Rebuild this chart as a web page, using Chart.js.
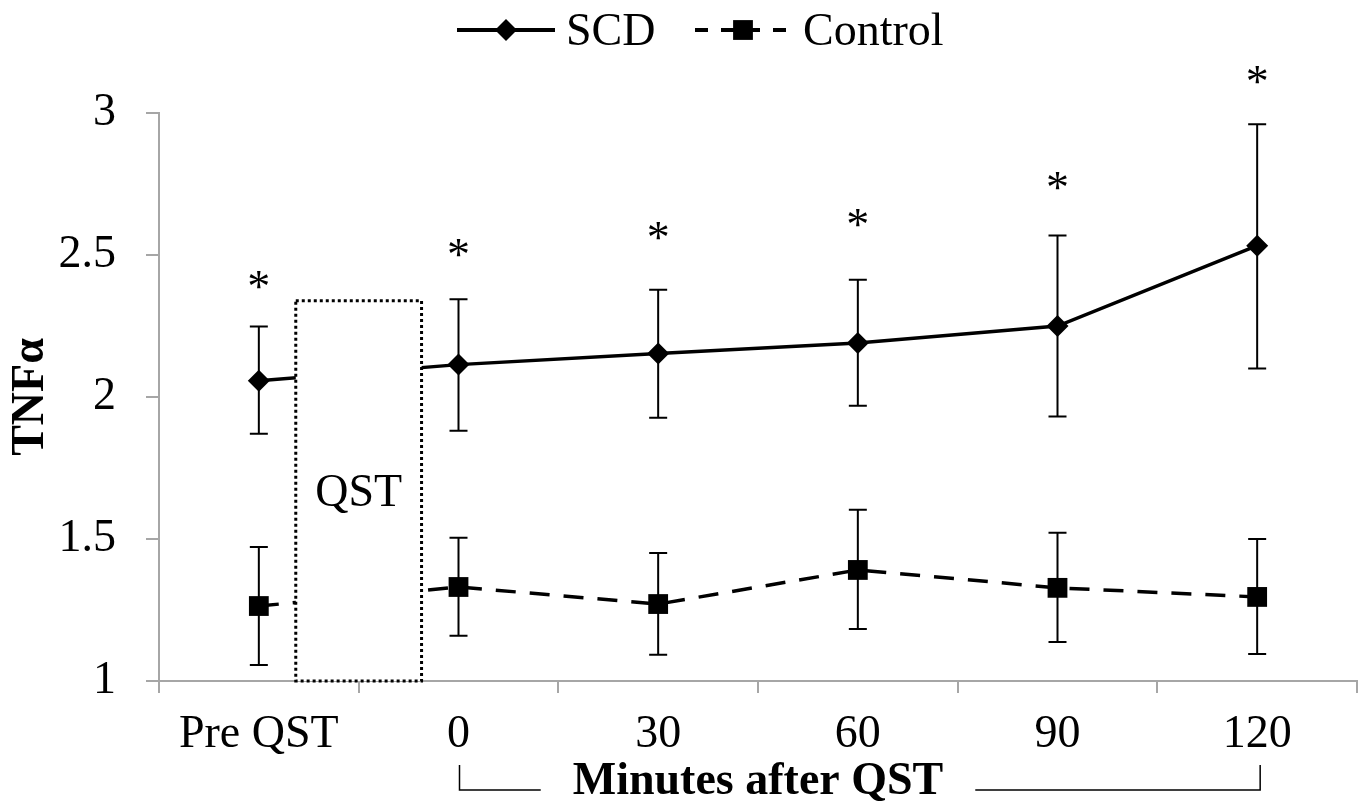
<!DOCTYPE html>
<html>
<head>
<meta charset="utf-8">
<script src="https://cdn.jsdelivr.net/npm/chart.js@4.4.0/dist/chart.umd.min.js"></script>
<style>
  html, body { margin: 0; padding: 0; background: #fff; overflow: hidden; }
  #wrap { width: 1365px; height: 806px; position: relative; overflow: hidden; }
  #tnfChart { display: block; }
</style>
</head>
<body>
<!-- canvas is 6px wider than the window: Chart.js keeps ~14px for the markers on the right -->
<div id="wrap"><canvas id="tnfChart" width="1371" height="806"></canvas></div>
<script>
const timepoints = ['Pre QST', '0', '30', '60', '90', '120'];

// SCD group: mean and error bar ends
const scdMean = [2.057, 2.114, 2.153, 2.19, 2.25, 2.533];
const scdHigh = [2.248, 2.344, 2.378, 2.413, 2.569, 2.96];
const scdLow  = [1.871, 1.881, 1.927, 1.969, 1.931, 2.10];

// Control group
const ctlMean = [1.264, 1.331, 1.271, 1.391, 1.328, 1.296];
const ctlHigh = [1.472, 1.504, 1.451, 1.603, 1.522, 1.50];
const ctlLow  = [1.056, 1.159, 1.092, 1.183, 1.137, 1.095];

// level of the significance asterisk above each SCD point
const starLevel = [2.413, 2.526, 2.586, 2.632, 2.762, 3.133];

const yTicks = [1, 1.5, 2, 2.5, 3];
const yTickLabels = ['1', '1.5', '2', '2.5', '3'];

const serif = "'Liberation Serif', 'Times New Roman', serif";
const axisGray = '#a6a6a6';

// error bars under the markers
const errorBars = {
  id: 'errorBars',
  beforeDatasetsDraw(chart) {
    const { ctx, scales: { x, y } } = chart;
    const sets = [[scdLow, scdHigh], [ctlLow, ctlHigh]];
    ctx.save();
    ctx.strokeStyle = '#000';
    ctx.lineWidth = 2;
    sets.forEach(([lo, hi]) => {
      lo.forEach((v, i) => {
        const px = x.getPixelForValue(i);
        const top = y.getPixelForValue(hi[i]);
        const bot = y.getPixelForValue(v);
        ctx.beginPath();
        ctx.moveTo(px, top); ctx.lineTo(px, bot);
        ctx.moveTo(px - 9, top); ctx.lineTo(px + 9, top);
        ctx.moveTo(px - 9, bot); ctx.lineTo(px + 9, bot);
        ctx.stroke();
      });
    });
    ctx.restore();
  }
};

// QST box, asterisks, bracket under the x title
const extras = {
  id: 'extras',
  afterDatasetsDraw(chart) {
    const { ctx, scales: { x, y } } = chart;
    const step = x.getPixelForValue(1) - x.getPixelForValue(0);
    const bx0 = x.getPixelForValue(0) + step * 0.185;
    const bx1 = x.getPixelForValue(1) - step * 0.185;
    const by0 = y.getPixelForValue(2.339);
    const by1 = y.getPixelForValue(1);
    ctx.save();
    ctx.fillStyle = '#fff';
    ctx.fillRect(bx0, by0, bx1 - bx0, by1 - by0);
    ctx.strokeStyle = '#000';
    ctx.lineWidth = 3;
    ctx.setLineDash([3, 3]);
    ctx.strokeRect(bx0, by0, bx1 - bx0, by1 - by0);
    ctx.setLineDash([]);
    ctx.fillStyle = '#000';
    ctx.font = '46px ' + serif;
    ctx.textAlign = 'center';
    ctx.textBaseline = 'alphabetic';
    ctx.fillText('QST', (bx0 + bx1) / 2, y.getPixelForValue(1.617));
    ctx.restore();
  },
  afterDraw(chart) {
    const { ctx, scales: { x, y }, chartArea } = chart;
    ctx.save();
    ctx.fillStyle = '#000';
    ctx.font = '46px ' + serif;
    ctx.textAlign = 'center';
    ctx.textBaseline = 'alphabetic';
    const m = ctx.measureText('*');
    const half = (m.actualBoundingBoxAscent - m.actualBoundingBoxDescent) / 2;
    starLevel.forEach((v, i) => {
      ctx.fillText('*', x.getPixelForValue(i), y.getPixelForValue(v) + half);
    });

    // bracket around "Minutes after QST"
    ctx.font = 'bold 46px ' + serif;
    const tw = ctx.measureText('Minutes after QST').width;
    const cx = (chartArea.left + chartArea.right) / 2;
    const lx = x.getPixelForValue(1) + 1;
    const rx = x.getPixelForValue(5) + 3;
    ctx.strokeStyle = '#000';
    ctx.lineWidth = 1.5;
    ctx.beginPath();
    ctx.moveTo(lx, 765); ctx.lineTo(lx, 790); ctx.lineTo(cx - tw / 2 - 32, 790);
    ctx.moveTo(cx + tw / 2 + 32, 790); ctx.lineTo(rx, 790); ctx.lineTo(rx, 765);
    ctx.stroke();
    ctx.restore();
  }
};

// legend row at the top: line + marker + label
const legendRow = {
  id: 'legendRow',
  afterDraw(chart) {
    const ctx = chart.ctx;
    const items = [
      { ds: chart.data.datasets[0], dash: [], x0: 457, x1: 555, mx: 506, tx: 566 },
      { ds: chart.data.datasets[1], dash: [13, 13], x0: 695, x1: 788, mx: 743, tx: 803 }
    ];
    ctx.save();
    items.forEach(it => {
      ctx.strokeStyle = '#000';
      ctx.lineWidth = 4;
      ctx.setLineDash(it.dash);
      ctx.beginPath();
      ctx.moveTo(it.x0, 30); ctx.lineTo(it.x1, 30);
      ctx.stroke();
      ctx.setLineDash([]);
      ctx.fillStyle = '#000';
      Chart.helpers.drawPoint(ctx, { pointStyle: it.ds.pointStyle, radius: it.ds.pointRadius, borderWidth: 0 }, it.mx, 30);
      ctx.font = '46px ' + serif;
      ctx.textAlign = 'left';
      ctx.textBaseline = 'alphabetic';
      ctx.fillText(it.ds.label, it.tx, 45);
    });
    ctx.restore();
  }
};

new Chart(document.getElementById('tnfChart'), {
  type: 'line',
  data: {
    labels: timepoints,
    datasets: [
      {
        label: 'SCD',
        data: scdMean,
        borderColor: '#000',
        backgroundColor: '#000',
        borderWidth: 3.5,
        pointStyle: 'rectRot',
        pointRadius: 11,
        pointBorderWidth: 0,
        pointBackgroundColor: '#000',
        tension: 0
      },
      {
        label: 'Control',
        data: ctlMean,
        borderColor: '#000',
        backgroundColor: '#000',
        borderWidth: 3.5,
        borderDash: [20, 14],
        pointStyle: 'rect',
        pointRadius: 14,
        pointBorderWidth: 0,
        pointBackgroundColor: '#000',
        tension: 0
      }
    ]
  },
  options: {
    responsive: false,
    animation: false,
    layout: { padding: { top: 113, right: 8, left: 0, bottom: 0 } },
    plugins: {
      legend: { display: false },
      tooltip: { enabled: false }
    },
    scales: {
      x: {
        type: 'category',
        offset: true,
        grid: { display: true, drawOnChartArea: false, drawTicks: true, tickLength: 12, color: axisGray, lineWidth: 2, offset: true },
        border: { display: true, color: axisGray, width: 2 },
        ticks: { color: '#000', font: { family: serif, size: 46 }, padding: 14, maxRotation: 0, autoSkip: false },
        title: {
          display: true, text: 'Minutes after QST', color: '#000',
          font: { family: serif, size: 46, weight: 'bold', lineHeight: 1.05 },
          padding: { top: 0, bottom: 0 }
        },
        afterFit(s) {
          s.height = 125;
          s.paddingLeft = 0;
          s.paddingRight = 0;
        }
      },
      y: {
        min: 1,
        max: 3,
        afterBuildTicks(s) { s.ticks = yTicks.map(v => ({ value: v })); },
        grid: { drawOnChartArea: false, drawTicks: true, tickLength: 13, color: axisGray, lineWidth: 2 },
        border: { display: true, color: axisGray, width: 2 },
        ticks: {
          color: '#000', font: { family: serif, size: 46 }, padding: 30,
          callback: (v, i) => yTickLabels[i]
        },
        title: {
          display: true, text: 'TNFα', color: '#000',
          font: { family: serif, size: 46, weight: 'bold' },
          padding: { top: 4, bottom: 0 }
        },
        afterFit(s) { s.width = 159; }
      }
    }
  },
  plugins: [errorBars, extras, legendRow]
});
</script>
</body>
</html>
